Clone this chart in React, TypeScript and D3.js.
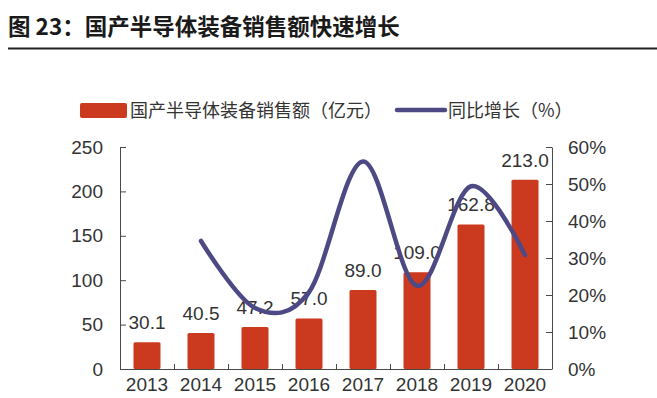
import { useEffect, useRef } from "react";
import * as d3 from "d3";

const years = ["2013", "2014", "2015", "2016", "2017", "2018", "2019", "2020"];
const sales = [30.1, 40.5, 47.2, 57.0, 89.0, 109.0, 162.8, 213.0];
// growth starts in 2014
const growthYears = ["2014", "2015", "2016", "2017", "2018", "2019", "2020"];
const growth = [34.6, 16.5, 20.8, 56.1, 22.5, 49.4, 30.8];
const leftTicks = [0, 50, 100, 150, 200, 250];
const rightTicks = [0, 10, 20, 30, 40, 50, 60];

const W = 657;
const H = 398;
const barColor = "#cb3a1f";
const lineColor = "#4d4984";
const axisColor = "#4a4a4a";
const textColor = "#333333";
const font = "'Liberation Sans', Arial, 'Noto Sans CJK SC', sans-serif";
const cjk = "'Noto Sans CJK SC', sans-serif";

export default function App() {
  const ref = useRef<SVGSVGElement>(null);

  useEffect(() => {
    if (!ref.current) return;
    const svg = d3.select(ref.current);
    svg.selectAll("*").remove();

    const left = 120, right = 552, top = 147, bottom = 369;

    const x = d3.scaleBand<string>().domain(years).range([left, right]).padding(0);
    const y = d3.scaleLinear().domain([0, 250]).range([bottom, top]);
    const y2 = d3.scaleLinear().domain([0, 60]).range([bottom, top]);
    const barW = x.bandwidth() * 0.5;

    svg.append("rect").attr("width", W).attr("height", H).attr("fill", "#ffffff");

    // title
    svg.append("text")
      .attr("x", 8).attr("y", 35)
      .style("font-family", cjk).style("font-size", "22.5px").style("font-weight", "bold")
      .attr("fill", "#1a1a1a")
      .text("图 23：国产半导体装备销售额快速增长");
    svg.append("line")
      .attr("x1", 8).attr("x2", W).attr("y1", 48.5).attr("y2", 48.5)
      .attr("stroke", "#222").attr("stroke-width", 2.2);

    // legend
    svg.append("rect").attr("x", 80).attr("y", 103).attr("width", 47).attr("height", 15)
      .attr("rx", 2).attr("fill", barColor);
    svg.append("text").attr("x", 130).attr("y", 117)
      .style("font-family", cjk).style("font-size", "18px").attr("fill", textColor)
      .text("国产半导体装备销售额（亿元）");
    svg.append("line").attr("x1", 397).attr("x2", 445).attr("y1", 110).attr("y2", 110)
      .attr("stroke", lineColor).attr("stroke-width", 4.5).attr("stroke-linecap", "round");
    svg.append("text").attr("x", 448).attr("y", 117)
      .style("font-family", cjk).style("font-size", "18px").attr("fill", textColor)
      .text("同比增长（%）");

    // bars
    svg.append("g").selectAll("rect")
      .data(sales)
      .enter()
      .append("rect")
      .attr("x", (d, i) => x(years[i])! + (x.bandwidth() - barW) / 2)
      .attr("y", d => y(d))
      .attr("width", barW)
      .attr("height", d => y(0) - y(d))
      .attr("rx", 1.5)
      .attr("fill", barColor);

    // value labels
    svg.append("g").selectAll("text")
      .data(sales)
      .enter()
      .append("text")
      .attr("x", (d, i) => x(years[i])! + x.bandwidth() / 2)
      .attr("y", d => y(d) - 13)
      .attr("text-anchor", "middle")
      .style("font-family", font).style("font-size", "19px")
      .attr("fill", textColor)
      .text(d => d.toFixed(1));

    // left axis
    const gl = svg.append("g").attr("transform", `translate(${left},0)`)
      .call(d3.axisLeft(y).tickValues(leftTicks).tickSizeInner(-6).tickSizeOuter(0).tickPadding(17));
    // right axis
    const gr = svg.append("g").attr("transform", `translate(${right},0)`)
      .call(d3.axisRight(y2).tickValues(rightTicks).tickSizeInner(-6).tickSizeOuter(0)
        .tickPadding(16).tickFormat(d => `${d}%`));
    [gl, gr].forEach(g => {
      g.select(".domain").attr("stroke", axisColor);
      g.selectAll(".tick line").attr("stroke", axisColor);
      g.selectAll(".tick text").attr("fill", textColor)
        .style("font-family", font).style("font-size", "19px");
    });
    gl.selectAll(".tick").filter(d => d === 0).select("line").remove();
    gr.selectAll(".tick").filter(d => d === 0).select("line").remove();

    // bottom axis
    svg.append("line").attr("x1", left).attr("x2", right).attr("y1", bottom + 0.5).attr("y2", bottom + 0.5)
      .attr("stroke", axisColor);
    svg.append("g").selectAll("line")
      .data(years.slice(1))
      .enter()
      .append("line")
      .attr("x1", d => x(d)! + 0.5).attr("x2", d => x(d)! + 0.5)
      .attr("y1", bottom).attr("y2", bottom - 5)
      .attr("stroke", axisColor);
    svg.append("g").selectAll("text")
      .data(years)
      .enter()
      .append("text")
      .attr("x", d => x(d)! + x.bandwidth() / 2)
      .attr("y", 391)
      .attr("text-anchor", "middle")
      .style("font-family", font).style("font-size", "19px")
      .attr("fill", textColor)
      .text(d => d);

    // growth line
    const line = d3.line<number>()
      .x((d, i) => x(growthYears[i])! + x.bandwidth() / 2)
      .y(d => y2(d))
      .curve(d3.curveCardinal.tension(0));
    svg.append("path")
      .datum(growth)
      .attr("d", line)
      .attr("fill", "none")
      .attr("stroke", lineColor)
      .attr("stroke-width", 4.5)
      .attr("stroke-linecap", "round");
  }, []);

  return (
    <svg ref={ref} width={W} height={H} viewBox={`0 0 ${W} ${H}`}
      style={{ position: "absolute", left: 0, top: 0 }} />
  );
}
